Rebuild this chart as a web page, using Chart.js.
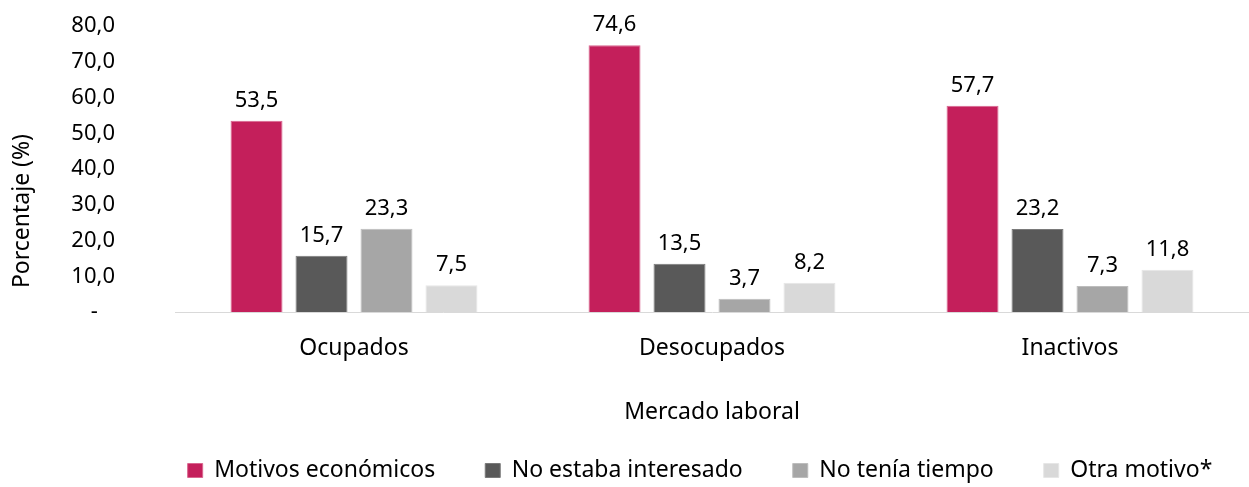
<!DOCTYPE html>
<html>
<head>
<meta charset="utf-8">
<script src="https://cdn.jsdelivr.net/npm/chart.js@4.4.0/dist/chart.umd.min.js"></script>
<style>
  html, body { margin: 0; padding: 0; background: #fff; }
  #wrap { width: 1249px; height: 487px; }
</style>
</head>
<body>
<div id="wrap"><canvas id="grafico"></canvas></div>
<script>
var categorias = ['Ocupados', 'Desocupados', 'Inactivos'];
var motivosEconomicos = [53.5, 74.6, 57.7];
var noInteresado = [15.7, 13.5, 23.2];
var noTiempo = [23.3, 3.7, 7.3];
var otroMotivo = [7.5, 8.2, 11.8];
var ticksY = [0, 10, 20, 30, 40, 50, 60, 70, 80];

var fuente = "'Noto Sans', 'Open Sans', sans-serif";

function fmt(v) {
  return v.toFixed(1).replace('.', ',');
}

// etiquetas de valor encima de cada barra
var etiquetas = {
  id: 'etiquetas',
  afterDatasetsDraw: function (chart) {
    var ctx = chart.ctx;
    ctx.save();
    ctx.font = '22px ' + fuente;
    ctx.fillStyle = '#000';
    ctx.textAlign = 'center';
    ctx.textBaseline = 'alphabetic';
    chart.data.datasets.forEach(function (ds, i) {
      chart.getDatasetMeta(i).data.forEach(function (bar, j) {
        ctx.fillText(fmt(ds.data[j]), bar.x, bar.y - 14);
      });
    });
    ctx.restore();
  }
};

// la leyenda va centrada sobre el área del gráfico, no sobre todo el lienzo
var leyendaCentrada = {
  id: 'leyendaCentrada',
  afterLayout: function (chart) {
    var ca = chart.chartArea, lg = chart.legend;
    var dx = (ca.left + ca.right) / 2 - (lg.left + lg.right) / 2 - 12;
    lg.left += dx;
    lg.right += dx;
  }
};

var ctx = document.getElementById('grafico').getContext('2d');
var grafico = new Chart(ctx, {
  type: 'bar',
  data: {
    labels: categorias,
    datasets: [
      { label: 'Motivos económicos', data: motivosEconomicos, backgroundColor: '#C41F5B', borderColor: '#D9668F', borderWidth: 1 },
      { label: 'No estaba interesado', data: noInteresado, backgroundColor: '#595959', borderColor: '#7a7a7a', borderWidth: 1 },
      { label: 'No tenía tiempo', data: noTiempo, backgroundColor: '#A6A6A6', borderColor: '#bdbdbd', borderWidth: 1 },
      { label: 'Otra motivo*', data: otroMotivo, backgroundColor: '#D9D9D9', borderColor: '#e6e6e6', borderWidth: 1 }
    ]
  },
  options: {
    responsive: true,
    maintainAspectRatio: false,
    animation: false,
    datasets: { bar: { categoryPercentage: 0.726, barPercentage: 0.8 } },
    layout: { padding: { top: 26, left: 0, right: 0, bottom: 0 } },
    plugins: {
      legend: {
        position: 'bottom',
        maxHeight: 78,
        labels: {
          boxWidth: 15,
          boxHeight: 14,
          padding: 50,
          color: '#000',
          font: { family: fuente, size: 23 }
        }
      },
      tooltip: { enabled: false }
    },
    scales: {
      x: {
        grid: { display: false, drawTicks: false },
        border: { color: '#d9d9d9', width: 1 },
        ticks: { color: '#000', padding: 23, font: { family: fuente, size: 23 } },
        title: {
          display: true,
          text: 'Mercado laboral',
          color: '#000',
          font: { family: fuente, size: 23 },
          padding: { top: 12.6, bottom: -16.8 }
        }
      },
      y: {
        min: 0,
        max: 80,
        afterBuildTicks: function (axis) {
          axis.ticks = ticksY.map(function (v) { return { value: v }; });
        },
        afterFit: function (axis) {
          axis.width = 175;
          axis.paddingTop = 0;
          axis.paddingBottom = 0;
        },
        grid: { display: false, drawTicks: false },
        border: { display: false },
        ticks: {
          autoSkip: false,
          color: '#000',
          padding: 60,
          font: { family: fuente, size: 22 },
          callback: function (v) { return v === 0 ? '-   ' : fmt(v); }
        },
        title: {
          display: true,
          text: '    Porcentaje (%)',
          align: 'start',
          color: '#000',
          font: { family: fuente, size: 23 },
          padding: { top: 9, bottom: 0 }
        }
      }
    }
  },
  plugins: [etiquetas, leyendaCentrada]
});
</script>
</body>
</html>
